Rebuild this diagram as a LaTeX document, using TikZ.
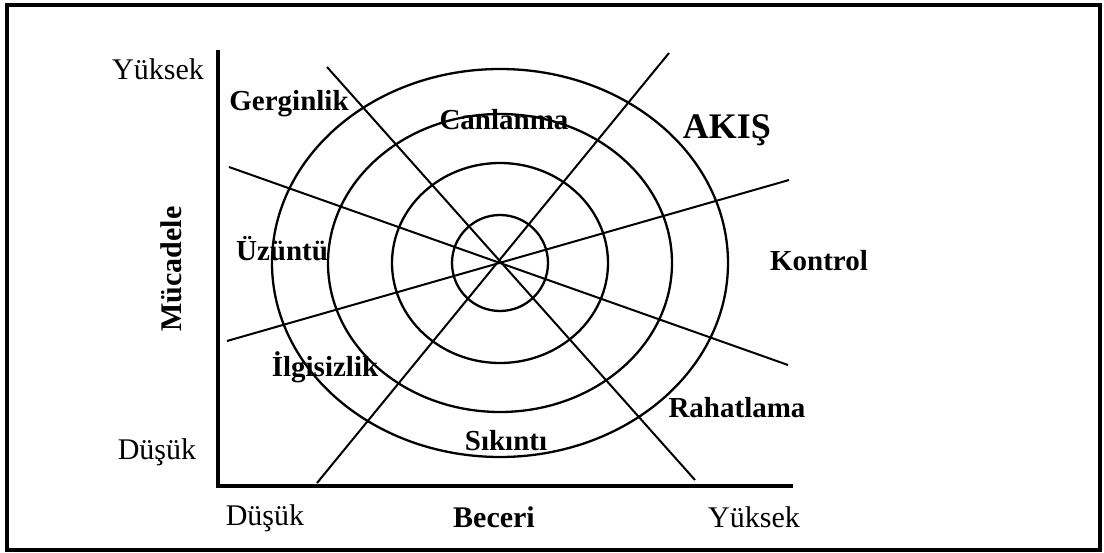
\documentclass[tikz,border=0pt]{standalone}
\usepackage{fontspec}
\setmainfont{Liberation Serif}
\usetikzlibrary{positioning}
\tikzset{
  frame/.style={
    draw=black,
    line width=4pt
  },
  axis/.style={
    draw=black,
    line width=3.5pt,
    line join=miter
  },
  ring/.style={
    draw=black,
    line width=2.3pt
  },
  spoke/.style={
    draw=black,
    line width=2pt
  },
  endlabel/.style={
    inner sep=0pt,
    font=\fontsize{30}{36}\selectfont
  },
  zone/.style={
    inner sep=0pt,
    font=\fontsize{29}{35}\selectfont\bfseries
  }
}

\begin{document}
\begin{tikzpicture}[x=1pt, y=-1pt]
  \useasboundingbox (0,0) rectangle (1104,553);
  \draw[frame] (7,5) rectangle (1100,550);

  % axes
  \coordinate (ytop) at (218,50);
  \coordinate (origin) at (218,486);
  \coordinate (xend) at (793,486);
  \draw[axis] (ytop) -- (origin) -- (xend);

  % rings
  \coordinate (centre) at (500,263);
  \draw[ring] (centre) ellipse [x radius=48pt, y radius=48pt];
  \draw[ring] (centre) ellipse [x radius=108pt, y radius=100pt];
  \draw[ring] (centre) ellipse [x radius=172pt, y radius=149pt];
  \draw[ring] (centre) ellipse [x radius=228pt, y radius=194pt];

  % spokes
  \coordinate (a1) at (327,67);
  \coordinate (a2) at (695,480);
  \coordinate (b1) at (669,53);
  \coordinate (b2) at (317,483);
  \coordinate (c1) at (229,167);
  \coordinate (c2) at (788,365);
  \coordinate (d1) at (227,341);
  \coordinate (d2) at (789,180);
  \draw[spoke] (a1) -- (a2);
  \draw[spoke] (b1) -- (b2);
  \draw[spoke] (c1) -- (c2);
  \draw[spoke] (d1) -- (d2);

  % axis labels
  \node[endlabel] (yhigh) at (158,69) {Yüksek};
  \node[endlabel] (ylow) at (157,452) {Düşük};
  \node[endlabel] (xlow) at (265,518) {Düşük};
  \node[endlabel] (xhigh) at (754,517) {Yüksek};
  \node[zone, font=\fontsize{30}{36}\selectfont\bfseries] (skill) at (494,517) {Beceri};
  \node[zone, font=\fontsize{30}{36}\selectfont\bfseries, rotate=90] (challenge) at (171,269) {Mücadele};

  % zones
  \node[zone] (arousal) at (289,104) {Gerginlik};
  \node[zone] (awake) at (504,120) {Canlanma};
  \node[zone, font=\fontsize{36}{42}\selectfont\bfseries] (flow) at (727,130) {AKIŞ};
  \node[zone] (control) at (819,261) {Kontrol};
  \node[zone] (worry) at (282,249) {Üzüntü};
  \node[zone] (apathy) at (325,367) {İlgisizlik};
  \node[zone] (relax) at (737,408) {Rahatlama};
  \node[zone] (boredom) at (506,441) {Sıkıntı};
\end{tikzpicture}
\end{document}
